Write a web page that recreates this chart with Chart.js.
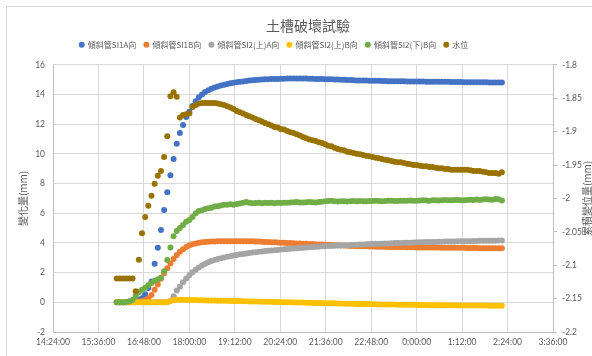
<!DOCTYPE html>
<html>
<head>
<meta charset="utf-8">
<script src="https://cdn.jsdelivr.net/npm/chart.js@4/dist/chart.umd.min.js"></script>
<style>
  html, body { margin: 0; padding: 0; background: #fff; }
  canvas { display: block; }
</style>
</head>
<body>
<canvas id="chart" width="592" height="356"></canvas>
<script>
// Logger timestamps (5-minute readings, run continues past midnight)
const times = [
  '16:05','16:10','16:15','16:20','16:25','16:30','16:35','16:40','16:45','16:50','16:55',
  '17:00','17:05','17:10','17:15','17:20','17:25','17:30','17:35','17:40','17:45','17:50','17:55',
  '18:00','18:05','18:10','18:15','18:20','18:25','18:30','18:35','18:40','18:45','18:50','18:55',
  '19:00','19:05','19:10','19:15','19:20','19:25','19:30','19:35','19:40','19:45','19:50','19:55',
  '20:00','20:05','20:10','20:15','20:20','20:25','20:30','20:35','20:40','20:45','20:50','20:55',
  '21:00','21:05','21:10','21:15','21:20','21:25','21:30','21:35','21:40','21:45','21:50','21:55',
  '22:00','22:05','22:10','22:15','22:20','22:25','22:30','22:35','22:40','22:45','22:50','22:55',
  '23:00','23:05','23:10','23:15','23:20','23:25','23:30','23:35','23:40','23:45','23:50','23:55',
  '0:00','0:05','0:10','0:15','0:20','0:25','0:30','0:35','0:40','0:45','0:50','0:55',
  '1:00','1:05','1:10','1:15','1:20','1:25','1:30','1:35','1:40','1:45','1:50','1:55',
  '2:00','2:05','2:10','2:15'
];

const seriesNames = ['傾斜管SI1A向', '傾斜管SI1B向', '傾斜管SI2(上)A向', '傾斜管SI2(上)B向', '傾斜管SI2(下)B向', '水位'];
const chartTitle = '土槽破壞試驗';
const leftAxisTitle = '變化量(mm)';
const rightAxisTitle = '累積變位量(mm)';

// 傾斜管SI1A向 (mm)
const si1A = [
  0, 0, 0, 0.02, 0.05, 0.1, 0.15, 0.18, 0.27, 0.55,
  0.96, 1.41, 2.6, 3.67, 4.87, 6.22, 7.42, 8.56, 9.65, 10.68,
  11.41, 11.95, 12.48, 12.84, 13.22, 13.55, 13.82, 14.0, 14.16, 14.28,
  14.38, 14.47, 14.54, 14.60, 14.66, 14.71, 14.75, 14.79, 14.82, 14.85,
  14.88, 14.91, 14.94, 14.96, 14.98, 14.99, 15.01, 15.02, 15.03, 15.04,
  15.05, 15.05, 15.06, 15.06, 15.07, 15.07, 15.07, 15.07, 15.07, 15.07,
  15.07, 15.06, 15.06, 15.05, 15.05, 15.04, 15.03, 15.03, 15.02, 15.01,
  15.01, 15.00, 14.99, 14.98, 14.97, 14.96, 14.95, 14.95, 14.94, 14.94,
  14.93, 14.93, 14.92, 14.92, 14.91, 14.91, 14.90, 14.90, 14.90, 14.89,
  14.89, 14.89, 14.88, 14.88, 14.88, 14.87, 14.87, 14.87, 14.86, 14.86,
  14.86, 14.86, 14.85, 14.85, 14.85, 14.85, 14.84, 14.84, 14.84, 14.84,
  14.83, 14.83, 14.83, 14.83, 14.82, 14.82, 14.82, 14.82, 14.81, 14.81,
  14.81, 14.81, 14.80
];

// 傾斜管SI1B向 (mm)
const si1B = [
  0, 0, 0, 0, 0, 0, 0.02, 0.05, 0.08, 0.15,
  0.28, 0.5, 0.85, 1.2, 1.58, 1.95, 2.3, 2.62, 2.92, 3.18,
  3.4, 3.58, 3.72, 3.83, 3.91, 3.97, 4.01, 4.04, 4.06, 4.08,
  4.09, 4.10, 4.11, 4.11, 4.12, 4.12, 4.12, 4.12, 4.12, 4.12,
  4.12, 4.12, 4.11, 4.11, 4.10, 4.09, 4.08, 4.07, 4.06, 4.05,
  4.04, 4.03, 4.02, 4.01, 4.00, 3.99, 3.98, 3.97, 3.96, 3.95,
  3.94, 3.93, 3.92, 3.91, 3.90, 3.89, 3.88, 3.87, 3.86, 3.85,
  3.84, 3.83, 3.82, 3.81, 3.80, 3.79, 3.78, 3.78, 3.77, 3.77,
  3.76, 3.76, 3.75, 3.75, 3.74, 3.74, 3.73, 3.73, 3.73, 3.72,
  3.72, 3.72, 3.71, 3.71, 3.71, 3.70, 3.70, 3.70, 3.70, 3.69,
  3.69, 3.69, 3.69, 3.68, 3.68, 3.68, 3.68, 3.67, 3.67, 3.67,
  3.67, 3.66, 3.66, 3.66, 3.66, 3.65, 3.65, 3.65, 3.65, 3.64,
  3.64, 3.64, 3.64
];

// 傾斜管SI2(上)A向 (mm)
const si2UpperA = [
  0, 0, 0, 0, 0, 0, 0, 0, 0, 0,
  0, 0, 0, 0, 0, 0, 0, 0.1, 0.4, 0.8,
  1.05, 1.35, 1.6, 1.82, 2.02, 2.2, 2.35, 2.48, 2.6, 2.7,
  2.78, 2.85, 2.91, 2.97, 3.02, 3.07, 3.11, 3.15, 3.19, 3.23,
  3.26, 3.29, 3.32, 3.35, 3.38, 3.41, 3.43, 3.45, 3.47, 3.49,
  3.51, 3.53, 3.55, 3.57, 3.59, 3.61, 3.63, 3.65, 3.66, 3.68,
  3.69, 3.71, 3.72, 3.74, 3.75, 3.77, 3.78, 3.79, 3.80, 3.81,
  3.82, 3.83, 3.84, 3.85, 3.86, 3.87, 3.88, 3.89, 3.90, 3.91,
  3.92, 3.93, 3.94, 3.95, 3.95, 3.96, 3.97, 3.98, 3.99, 3.99,
  4.00, 4.01, 4.02, 4.02, 4.03, 4.04, 4.04, 4.05, 4.06, 4.06,
  4.07, 4.07, 4.08, 4.08, 4.09, 4.09, 4.10, 4.10, 4.11, 4.11,
  4.12, 4.12, 4.12, 4.13, 4.13, 4.14, 4.14, 4.14, 4.15, 4.15,
  4.15, 4.16, 4.16
];

// 傾斜管SI2(上)B向 (mm)
const si2UpperB = [
  0, 0, 0, 0, 0, 0, 0, 0, 0, 0,
  0, 0, 0, 0, 0.01, 0.01, 0.02, 0.08, 0.14, 0.17,
  0.17, 0.17, 0.16, 0.16, 0.15, 0.15, 0.14, 0.14, 0.13, 0.13,
  0.12, 0.12, 0.11, 0.11, 0.10, 0.10, 0.09, 0.09, 0.08, 0.08,
  0.07, 0.07, 0.06, 0.06, 0.05, 0.05, 0.04, 0.04, 0.03, 0.03,
  0.02, 0.02, 0.01, 0.01, 0, 0, -0.01, -0.01, -0.02, -0.02,
  -0.03, -0.03, -0.04, -0.04, -0.05, -0.05, -0.06, -0.06, -0.07, -0.07,
  -0.08, -0.08, -0.09, -0.09, -0.10, -0.10, -0.11, -0.11, -0.12, -0.12,
  -0.12, -0.13, -0.13, -0.14, -0.14, -0.14, -0.15, -0.15, -0.15, -0.16,
  -0.16, -0.16, -0.17, -0.17, -0.17, -0.18, -0.18, -0.18, -0.18, -0.19,
  -0.19, -0.19, -0.19, -0.20, -0.20, -0.20, -0.20, -0.20, -0.21, -0.21,
  -0.21, -0.21, -0.21, -0.22, -0.22, -0.22, -0.22, -0.22, -0.23, -0.23,
  -0.23, -0.23, -0.23
];

// 傾斜管SI2(下)B向 (mm)
const si2LowerB = [
  0, 0, 0, 0.02, 0.05, 0.15, 0.42, 0.7, 0.85, 0.98,
  1.15, 1.3, 1.45, 1.55, 1.65, 2.1, 2.85, 3.7, 4.45, 4.8,
  5.0, 5.2, 5.42, 5.55, 5.75, 6.0, 6.15, 6.2, 6.28, 6.33,
  6.37, 6.45, 6.47, 6.52, 6.57, 6.58, 6.6, 6.57, 6.63, 6.65,
  6.7, 6.76, 6.7, 6.68, 6.69, 6.7, 6.68, 6.7, 6.69, 6.7,
  6.68, 6.7, 6.69, 6.71, 6.7, 6.72, 6.74, 6.76, 6.73, 6.72,
  6.74, 6.75, 6.74, 6.73, 6.76, 6.78, 6.8, 6.82, 6.84, 6.8,
  6.79, 6.81, 6.8, 6.79, 6.81, 6.82, 6.8, 6.82, 6.81, 6.8,
  6.83, 6.82, 6.84, 6.83, 6.81, 6.82, 6.84, 6.85, 6.83, 6.82,
  6.84, 6.85, 6.84, 6.86, 6.85, 6.84, 6.86, 6.88, 6.86, 6.85,
  6.87, 6.88, 6.86, 6.87, 6.9, 6.88, 6.87, 6.89, 6.9, 6.88,
  6.87, 6.89, 6.91, 6.9, 6.92, 6.9, 6.93, 6.95, 6.92, 6.91,
  6.96, 6.94, 6.86
];

// 水位 (secondary axis)
const waterLevel = [
  -2.120, -2.120, -2.120, -2.120, -2.120, -2.120, -2.139, -2.092, -2.052, -2.028,
  -2.011, -1.996, -1.978, -1.966, -1.959, -1.938, -1.907, -1.847, -1.841, -1.848,
  -1.879, -1.875, -1.874, -1.873, -1.863, -1.860, -1.858, -1.857, -1.857, -1.857,
  -1.857, -1.857, -1.858, -1.859, -1.860, -1.862, -1.864, -1.866, -1.869, -1.871,
  -1.873, -1.875, -1.877, -1.879, -1.881, -1.883, -1.885, -1.887, -1.889, -1.891,
  -1.893, -1.894, -1.896, -1.897, -1.899, -1.901, -1.902, -1.904, -1.906, -1.908,
  -1.910, -1.912, -1.913, -1.914, -1.916, -1.917, -1.919, -1.921, -1.922, -1.924,
  -1.926, -1.927, -1.928, -1.930, -1.931, -1.932, -1.933, -1.934, -1.935, -1.936,
  -1.937, -1.938, -1.939, -1.940, -1.941, -1.942, -1.943, -1.944, -1.945, -1.946,
  -1.946, -1.947, -1.948, -1.949, -1.950, -1.950, -1.951, -1.952, -1.952, -1.953,
  -1.953, -1.954, -1.955, -1.955, -1.956, -1.956, -1.957, -1.957, -1.957, -1.957,
  -1.957, -1.957, -1.958, -1.959, -1.959, -1.959, -1.960, -1.961, -1.962, -1.962,
  -1.962, -1.963, -1.961
];

const seriesColors = ['#4472C4', '#ED7D31', '#A5A5A5', '#FFC000', '#70AD47', '#997300'];

// Clock time -> hours on a continuous axis (early-morning readings belong to the next day)
function toHours(t) {
  const [h, m] = t.split(':').map(Number);
  return (h < 12 ? h + 24 : h) + m / 60;
}
function clockLabel(v) {
  const s = Math.round(v * 3600);
  const h = Math.floor(s / 3600) % 24;
  const m = Math.floor((s % 3600) / 60);
  const sec = s % 60;
  return h + ':' + String(m).padStart(2, '0') + ':' + String(sec).padStart(2, '0');
}
const xs = times.map(toHours);
const toPoints = vals => vals.map((v, i) => ({ x: xs[i], y: v }));

const seriesValues = [si1A, si1B, si2UpperA, si2UpperB, si2LowerB, waterLevel];
const datasets = seriesValues.map((vals, k) => ({
  label: seriesNames[k],
  data: toPoints(vals),
  yAxisID: k === 5 ? 'y2' : 'y',
  showLine: false,
  pointStyle: 'circle',
  pointRadius: 3,
  pointHoverRadius: 3,
  pointBorderWidth: 0,
  backgroundColor: seriesColors[k],
  borderColor: seriesColors[k],
  order: 5 - k
}));

const TEXT = '#595959';
const GRID = '#d9d9d9';
const AXIS = '#bfbfbf';
const CJK = '"Noto Sans CJK TC", "Noto Sans", sans-serif';
const NUM = 'Lato, "Liberation Sans", sans-serif';

// Chart frame, block placement and the secondary-axis caption
const framePlugin = {
  id: 'framePlugin',
  afterLayout(chart) {
    const t = chart.titleBlock;
    if (t) { t.left += 12; t.right += 12; }
    const lg = chart.legend;
    if (lg) { lg.left -= 22; lg.right -= 22; lg.top -= 6; lg.bottom -= 6; }
  },
  beforeDraw(chart) {
    const ctx = chart.ctx;
    ctx.save();
    ctx.fillStyle = '#ffffff';
    ctx.fillRect(0, 0, chart.width, chart.height);
    ctx.strokeStyle = GRID;
    ctx.lineWidth = 1;
    ctx.strokeRect(6.5, 6.5, chart.width + 20, chart.height + 20);
    ctx.restore();
  },
  afterDraw(chart) {
    const ctx = chart.ctx;
    const a = chart.chartArea;
    ctx.save();
    ctx.translate(587, (a.top + a.bottom) / 2);
    ctx.rotate(-Math.PI / 2);
    ctx.font = '10px ' + CJK;
    ctx.fillStyle = TEXT;
    ctx.textAlign = 'center';
    ctx.textBaseline = 'middle';
    ctx.fillText(rightAxisTitle, 0, 0);
    ctx.restore();
  }
};

new Chart(document.getElementById('chart'), {
  type: 'scatter',
  data: { datasets },
  plugins: [framePlugin],
  options: {
    responsive: false,
    animation: false,
    events: [],
    layout: { padding: 0 },
    plugins: {
      tooltip: { enabled: false },
      title: {
        display: true,
        text: chartTitle,
        color: TEXT,
        font: { family: CJK, size: 14, weight: 'normal', lineHeight: 1.2 },
        padding: { top: 17.6, bottom: 4.4 }
      },
      legend: {
        display: true,
        position: 'top',
        labels: {
          usePointStyle: true,
          pointStyle: 'circle',
          boxWidth: 4.2,
          boxHeight: 4.2,
          padding: 8,
          color: TEXT,
          font: { family: CJK, size: 8 },
          sort: (a, b) => a.datasetIndex - b.datasetIndex
        }
      }
    },
    scales: {
      x: {
        type: 'linear',
        position: 'bottom',
        min: 14.4,
        max: 27.6,
        afterFit: s => { s.height = 24; },
        ticks: {
          stepSize: 1.2,
          color: TEXT,
          font: { family: NUM, size: 8.5 },
          padding: 5,
          maxRotation: 0,
          autoSkip: false,
          callback: v => clockLabel(v)
        },
        grid: { color: GRID, drawTicks: false },
        border: { color: AXIS }
      },
      y: {
        position: 'left',
        min: -2,
        max: 16,
        afterFit: s => { s.width = 53; },
        ticks: {
          stepSize: 2,
          color: TEXT,
          font: { family: NUM, size: 8.5 },
          padding: 8,
          callback: v => String(Math.round(v * 100) / 100)
        },
        grid: { color: GRID, drawTicks: false },
        border: { color: AXIS },
        title: {
          display: true,
          text: leftAxisTitle,
          color: TEXT,
          font: { family: CJK, size: 10 },
          padding: { top: 17, bottom: 0 }
        }
      },
      y2: {
        position: 'right',
        min: -2.2,
        max: -1.8,
        afterFit: s => { s.width = 39; },
        ticks: {
          stepSize: 0.05,
          color: TEXT,
          font: { family: NUM, size: 8.5 },
          padding: 5,
          callback: v => String(Math.round(v * 100) / 100)
        },
        grid: { drawOnChartArea: false, color: AXIS, tickLength: 4 },
        border: { color: AXIS }
      }
    }
  }
});
</script>
</body>
</html>
